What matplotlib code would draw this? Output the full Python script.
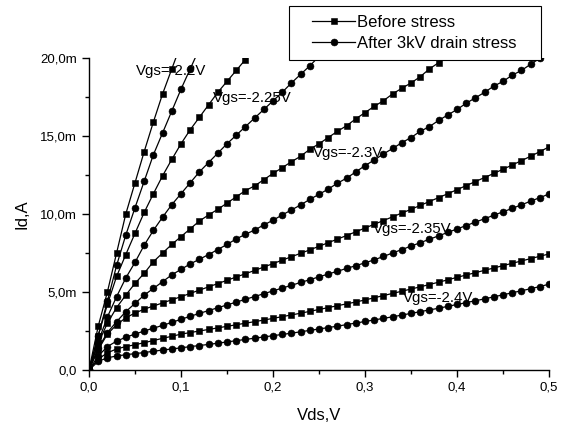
import matplotlib
matplotlib.use("Agg")
import matplotlib.pyplot as plt
import numpy as np
from matplotlib.patches import Rectangle
from matplotlib.ticker import MultipleLocator, FuncFormatter

plt.rcParams['font.family'] = ['Liberation Sans', 'DejaVu Sans']

# drain voltage sweep, 10 mV steps
vds = np.arange(51) * 0.01

# drain current in mA, before stress (squares) and after 3kV drain stress (circles)
before_22 = [0, 2.8, 5.0, 7.5, 10.0, 12.0, 14.0, 15.9, 17.7, 19.3, 20.9]
after_22 = [0, 2.2, 4.4, 6.7, 8.65, 10.4, 12.1, 13.8, 15.2, 16.6, 18.0, 19.3, 20.6]

before_225 = [0, 2.2, 4.2, 6.0, 7.4, 8.76, 10.1, 11.3, 12.45, 13.5, 14.5, 15.4, 16.2,
              17.0, 17.8, 18.5, 19.2, 19.9, 20.6]
after_225 = [0, 1.8, 3.4, 4.7, 5.9, 6.9, 8.0, 8.95, 9.8, 10.6, 11.3, 12.0, 12.7, 13.3,
             13.9, 14.5, 15.05, 15.6, 16.15, 16.7, 17.25, 17.8, 18.4, 18.95, 19.5, 20.1, 20.7]

before_23 = [0, 1.7, 3.0, 4.0, 4.8, 5.55, 6.2, 6.94, 7.5, 8.05, 8.55, 9.05, 9.55, 9.94,
             10.3, 10.7, 11.1, 11.5, 11.8, 12.2, 12.6, 12.97, 13.35, 13.7, 14.15, 14.5,
             14.9, 15.3, 15.66, 16.1, 16.5, 16.9, 17.26, 17.7, 18.06, 18.4, 18.8, 19.3,
             19.7, 20.1]
after_23 = [0, 1.4, 2.4, 3.1, 3.74, 4.27, 4.8, 5.23, 5.66, 6.1, 6.45, 6.8, 7.1, 7.4,
            7.72, 8.05, 8.4, 8.7, 8.97, 9.3, 9.6, 9.94, 10.26, 10.58, 10.94, 11.26, 11.6,
            11.97, 12.3, 12.7, 13.1, 13.46, 13.85, 14.2, 14.57, 14.9, 15.3, 15.6, 16.0,
            16.35, 16.7, 17.1, 17.45, 17.8, 18.2, 18.5, 18.9, 19.2, 19.6, 19.98, 20.35]

before_235 = [0, 1.3, 2.3, 2.9, 3.35, 3.65, 3.9, 4.1, 4.3, 4.5, 4.7, 4.91, 5.12, 5.33,
              5.54, 5.75, 5.96, 6.17, 6.38, 6.6, 6.82, 7.04, 7.26, 7.48, 7.7, 7.93, 8.16,
              8.39, 8.62, 8.86, 9.1, 9.34, 9.58, 9.82, 10.06, 10.3, 10.55, 10.8, 11.05,
              11.3, 11.56, 11.82, 12.08, 12.34, 12.6, 12.87, 13.14, 13.42, 13.7, 14.0, 14.3]
after_235 = [0, 0.9, 1.5, 1.85, 2.1, 2.3, 2.5, 2.68, 2.86, 3.05, 3.25, 3.44, 3.63, 3.81,
             3.99, 4.17, 4.35, 4.53, 4.71, 4.89, 5.07, 5.25, 5.43, 5.61, 5.79, 5.97, 6.15,
             6.33, 6.51, 6.69, 6.87, 7.06, 7.28, 7.5, 7.72, 7.94, 8.16, 8.38, 8.6, 8.82,
             9.04, 9.26, 9.48, 9.7, 9.92, 10.14, 10.36, 10.59, 10.82, 11.05, 11.28]

before_24 = [0, 0.7, 1.1, 1.35, 1.5, 1.62, 1.75, 1.89, 2.03, 2.16, 2.3, 2.4, 2.5, 2.6,
             2.7, 2.8, 2.9, 3.0, 3.1, 3.2, 3.31, 3.42, 3.53, 3.64, 3.76, 3.88, 4.0, 4.12,
             4.24, 4.36, 4.49, 4.63, 4.77, 4.91, 5.05, 5.19, 5.33, 5.48, 5.63, 5.78, 5.94,
             6.09, 6.24, 6.39, 6.54, 6.69, 6.84, 6.99, 7.14, 7.29, 7.44]
after_24 = [0, 0.55, 0.78, 0.9, 0.98, 1.05, 1.12, 1.2, 1.28, 1.35, 1.42, 1.5, 1.57, 1.64,
            1.72, 1.8, 1.88, 1.96, 2.04, 2.12, 2.2, 2.28, 2.36, 2.45, 2.54, 2.63, 2.72,
            2.81, 2.91, 3.01, 3.11, 3.21, 3.31, 3.41, 3.52, 3.63, 3.74, 3.85, 3.96, 4.08,
            4.2, 4.32, 4.44, 4.56, 4.69, 4.82, 4.95, 5.08, 5.21, 5.35, 5.5]

before_all = [before_22, before_225, before_23, before_235, before_24]
after_all = [after_22, after_225, after_23, after_235, after_24]

vgs_labels = ["Vgs=-2.2V", "Vgs=-2.25V", "Vgs=-2.3V", "Vgs=-2.35V", "Vgs=-2.4V"]
label_pos = [(0.051, 19.17), (0.1348, 17.44), (0.2435, 13.9), (0.3087, 9.02), (0.3413, 4.6)]

fig = plt.figure(figsize=(5.65, 4.25), dpi=100)
ax = fig.add_axes([0.1575, 0.1294, 0.8142, 0.7341])

for i, (b, a) in enumerate(zip(before_all, after_all)):
    ax.plot(vds[:len(b)], b, color='black', lw=0.9, marker='s', ms=4.3, mew=0.4,
            label='Before stress' if i == 0 else None)
    ax.plot(vds[:len(a)], a, color='black', lw=0.9, marker='o', ms=5.0, mew=0.4,
            label='After 3kV drain stress' if i == 0 else None)

for txt, (x, y) in zip(vgs_labels, label_pos):
    ax.text(x, y, txt, fontsize=10.8, ha='left', va='center')

ax.set_xlim(0, 0.5)
ax.set_ylim(0, 20)
ax.spines['top'].set_visible(False)
ax.spines['right'].set_visible(False)
for s in ('left', 'bottom'):
    ax.spines[s].set_linewidth(1.0)

ax.xaxis.set_major_locator(MultipleLocator(0.1))
ax.xaxis.set_minor_locator(MultipleLocator(0.05))
ax.yaxis.set_major_locator(MultipleLocator(5))
ax.yaxis.set_minor_locator(MultipleLocator(2.5))
ax.xaxis.set_major_formatter(FuncFormatter(lambda v, p: f"{v:.1f}".replace('.', ',')))
ax.yaxis.set_major_formatter(FuncFormatter(
    lambda v, p: "0,0" if abs(v) < 1e-9 else f"{v:.1f}m".replace('.', ',')))
ax.tick_params(which='major', direction='out', length=5, width=1.0, labelsize=9.5)
ax.tick_params(which='minor', direction='out', length=3, width=1.0)

ax.set_xlabel("Vds,V", fontsize=12, labelpad=10)
ax.set_ylabel("Id,A", fontsize=12, labelpad=8)

# legend box drawn separately so it can be wider than its contents
W, H = 565.0, 425.0
ax.add_patch(Rectangle((289 / W, 1 - 60 / H), 252 / W, 54 / H,
                       transform=fig.transFigure, facecolor='white',
                       edgecolor='black', lw=0.8, zorder=4.5, clip_on=False))
leg = ax.legend(loc='upper left', bbox_to_anchor=(312 / W, 1 - 15 / H),
                bbox_transform=fig.transFigure, borderaxespad=0, borderpad=0,
                fontsize=12, handlelength=2.6, handletextpad=0.1,
                labelspacing=0.38, frameon=False)

fig.savefig("out.png", dpi=100)
